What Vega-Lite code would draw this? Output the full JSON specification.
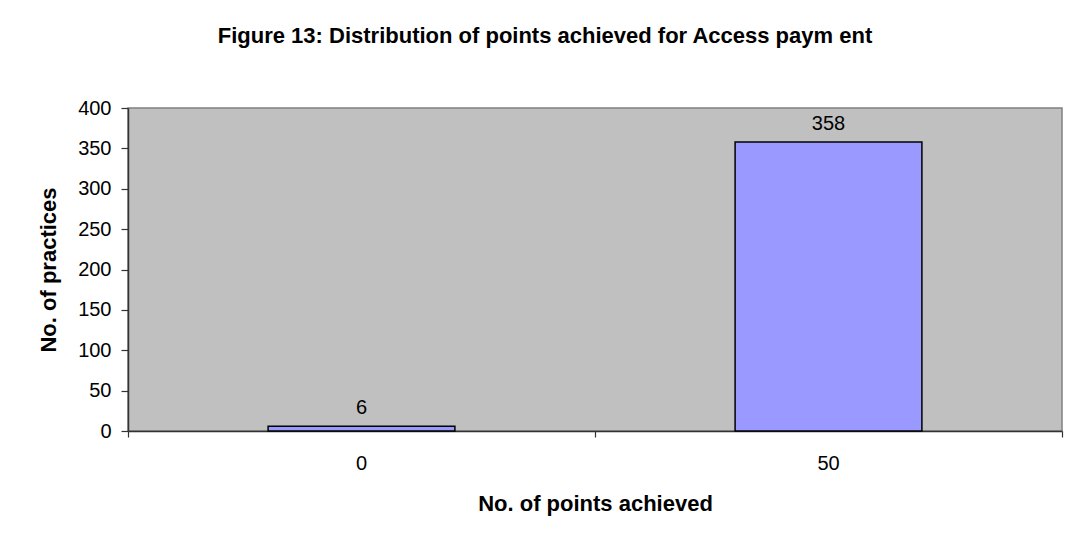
{
  "$schema": "https://vega.github.io/schema/vega-lite/v6.json",
  "autosize": {"type": "none"},
  "width": 934,
  "height": 323,
  "padding": {"left": 128, "top": 108, "right": 12, "bottom": 115},
  "background": "white",
  "title": {
    "text": "Figure 13:  Distribution of points achieved for Access paym ent",
    "font": "Liberation Sans",
    "fontSize": 22,
    "fontWeight": "bold",
    "color": "black",
    "anchor": "middle",
    "dx": -50,
    "offset": 50
  },
  "config": {
    "view": {"fill": "#C0C0C0", "stroke": "#808080", "strokeWidth": 1.5},
    "axis": {
      "labelFont": "Liberation Sans",
      "labelFontSize": 20,
      "labelColor": "black",
      "titleFont": "Liberation Sans",
      "titleFontSize": 22,
      "titleFontWeight": "bold",
      "titleColor": "black",
      "domainColor": "#333333",
      "domainWidth": 1.5,
      "tickColor": "#333333",
      "tickWidth": 1.2,
      "grid": false
    }
  },
  "data": {
    "values": [
      {"points": "0", "practices": 6},
      {"points": "50", "practices": 358}
    ]
  },
  "layer": [
    {
      "mark": {"type": "bar", "fill": "#9999FF", "stroke": "black", "strokeWidth": 1.5, "width": {"band": 0.4}},
      "encoding": {
        "x": {
          "field": "points",
          "type": "ordinal",
          "sort": null,
          "scale": {"paddingInner": 0, "paddingOuter": 0},
          "axis": {"orient": "bottom", "bandPosition": 0, "labels": false, "title": null, "tickSize": 6}
        },
        "y": {
          "field": "practices",
          "type": "quantitative",
          "scale": {"domain": [0, 400]},
          "axis": {"values": [0, 50, 100, 150, 200, 250, 300, 350, 400], "tickSize": 7, "labelPadding": 10, "title": "No. of practices", "titlePadding": 17}
        }
      }
    },
    {
      "mark": {"type": "text", "font": "Liberation Sans", "fontSize": 20, "color": "black", "dy": -18},
      "encoding": {
        "x": {
          "field": "points",
          "type": "ordinal",
          "sort": null,
          "axis": {"orient": "bottom", "ticks": false, "domain": false, "labelAngle": 0, "labelPadding": 22, "title": "No. of points achieved", "titlePadding": 20}
        },
        "y": {"field": "practices", "type": "quantitative"},
        "text": {"field": "practices"}
      }
    },
    {
      "mark": {"type": "bar", "opacity": 0, "width": {"band": 0.4}},
      "encoding": {
        "x": {
          "field": "points",
          "type": "ordinal",
          "sort": null,
          "axis": {"orient": "bottom", "bandPosition": 1, "values": ["50"], "labels": false, "domain": false, "title": null, "tickSize": 6}
        },
        "y": {"field": "practices", "type": "quantitative"}
      }
    }
  ],
  "resolve": {"axis": {"x": "independent"}}
}
